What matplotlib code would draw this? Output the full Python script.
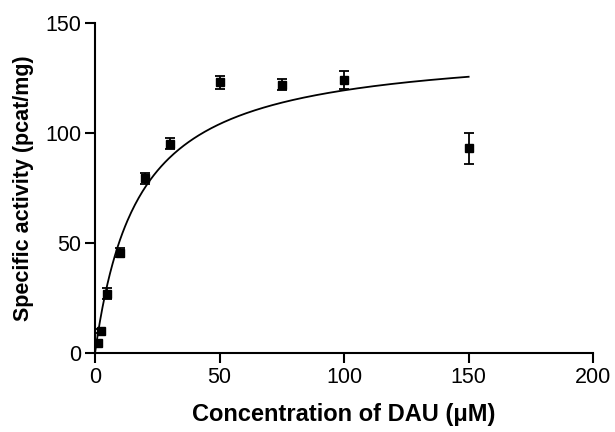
import numpy as np
import matplotlib
matplotlib.use("Agg")
import matplotlib.pyplot as plt

plt.rcParams['font.family'] = ['Liberation Sans', 'DejaVu Sans']

# measured points
conc = [1, 2.5, 5, 10, 20, 30, 50, 75, 100, 150]
activity = [4.5, 10, 27, 45.5, 79.5, 95, 123, 122, 124, 93]
err = [1.0, 1.0, 2.5, 2.0, 2.5, 2.5, 3.0, 2.5, 4.0, 7.0]

# Michaelis-Menten fit
vmax = 140.0
km = 17.3

fig = plt.figure(figsize=(6.15, 4.32), dpi=100)
ax = fig.add_axes([0.1545, 0.183, 0.81, 0.764])

xs = np.linspace(0, 150, 300)
ax.plot(xs, vmax * xs / (km + xs), color='black', lw=1.3)
ax.errorbar(conc, activity, yerr=err, fmt='s', color='black', ms=5.5,
            elinewidth=1.3, capsize=3.5, capthick=1.3)

ax.set_xlim(0, 200)
ax.set_ylim(0, 150)
ax.set_xticks([0, 50, 100, 150, 200])
ax.set_yticks([0, 50, 100, 150])
for s in ['top', 'right']:
    ax.spines[s].set_visible(False)
for s in ['left', 'bottom']:
    ax.spines[s].set_linewidth(1.5)
ax.tick_params(width=1.5, length=7, labelsize=15.5, pad=3)

ax.set_xlabel('Concentration of DAU (\u03bcM)', fontsize=17, fontweight='bold', labelpad=11)
ax.set_ylabel('Specific activity (pcat/mg)', fontsize=15.5, fontweight='bold', labelpad=8)

fig.savefig('out.png', dpi=100)
